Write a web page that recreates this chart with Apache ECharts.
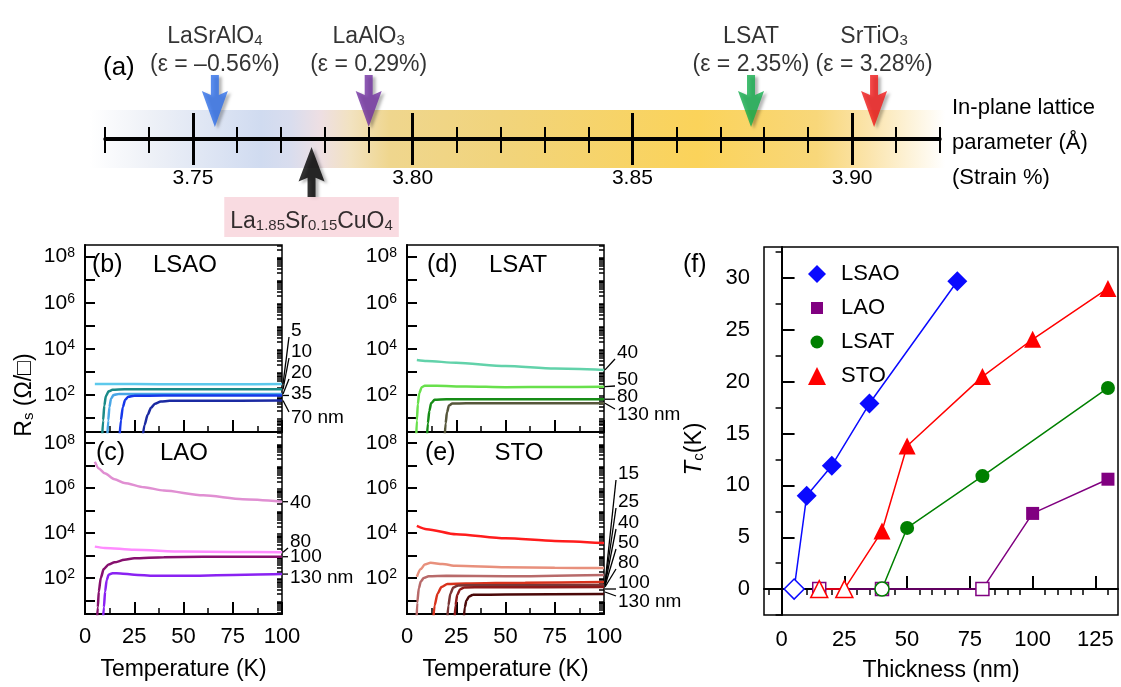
<!DOCTYPE html>
<html>
<head>
<meta charset="utf-8">
<script src="https://cdn.jsdelivr.net/npm/echarts@6/dist/echarts.min.js"></script>
<style>
  html, body { margin: 0; padding: 0; background: #fff; }
  #chart { width: 1121px; height: 687px; }
</style>
</head>
<body>
<div id="chart"></div>
<script>
// (a) substrates placed on the in-plane lattice parameter axis (angstrom)
const substrateNames = ['LaSrAlO4', 'LaAlO3', 'LSAT', 'SrTiO3']
const substrateLattice = [3.755, 3.790, 3.877, 3.905]
const substrateStrain = [-0.56, 0.29, 2.35, 3.28]
const filmName = 'La1.85Sr0.15CuO4'
const filmLattice = 3.777
const latticeMajorTicks = [3.75, 3.80, 3.85, 3.90]
const latticeMinorTicks = [3.73, 3.74, 3.76, 3.77, 3.78, 3.79, 3.81, 3.82, 3.83, 3.84, 3.86, 3.87, 3.88, 3.89, 3.91, 3.92]

// (b)-(e) sheet resistance vs temperature, [T (K), Rs (ohm/sq)]
const lsaoLabels = ['5', '10', '20', '35', '70 nm']
const lsao5 = [[5, 300], [25, 298], [50, 296], [75, 296], [100, 298]]
const lsao10 = [[8.6, 1], [9.2, 8], [9.8, 35], [10.6, 90], [12, 145], [14, 170], [20, 178], [50, 178], [100, 178]]
const lsao20 = [[11.2, 1], [11.8, 8], [12.4, 30], [13.2, 70], [14.5, 100], [17, 110], [30, 112], [100, 112]]
const lsao35 = [[17.4, 1], [18.2, 8], [19.2, 30], [20.4, 62], [22, 85], [25, 94], [40, 95], [100, 96]]
const lsao70 = [[29, 1], [30.2, 5], [31.8, 14], [33.5, 28], [35.5, 42], [38.5, 52], [43, 57], [60, 57], [100, 58]]

const laoLabels = ['40', '80', '100', '130 nm']
const lao40 = [[5, 1.5e7], [7, 7.6e6], [10, 4.6e6], [15, 2.5e6], [20, 1.7e6], [30, 1.1e6], [40, 7.9e5], [60, 4.8e5], [80, 3.2e5], [100, 2.5e5]]
const lao80 = [[5, 2.5e3], [10, 2.2e3], [25, 1.8e3], [50, 1.5e3], [75, 1.45e3], [100, 1.4e3]]
const lao100 = [[6, 1], [6.5, 5], [7, 25], [8, 100], [9.5, 250], [12, 400], [15, 500], [20, 650], [25, 760], [40, 850], [60, 880], [100, 890]]
const lao130 = [[9, 1], [9.6, 5], [10.2, 25], [11, 80], [12, 140], [14, 165], [18, 160], [25, 140], [35, 125], [50, 125], [75, 138], [100, 150]]

const lsatLabels = ['40', '50', '80', '130 nm']
const lsat40 = [[5, 3.3e3], [10, 3.0e3], [25, 2.5e3], [50, 1.8e3], [75, 1.4e3], [100, 1.23e3]]
const lsat50 = [[4.6, 1], [5, 8], [5.5, 40], [6.2, 120], [7.5, 220], [9, 250], [15, 250], [30, 235], [50, 220], [75, 222], [100, 230]]
const lsat80 = [[10, 1], [10.6, 6], [11.3, 20], [12.3, 45], [14, 62], [20, 66], [100, 66]]
const lsat130 = [[19, 1], [19.6, 6], [20.3, 18], [21.3, 35], [23, 43], [30, 44], [100, 44]]

const stoLabels = ['15', '25', '40', '50', '80', '100', '130 nm']
const sto15 = [[5, 2.1e4], [10, 1.5e4], [25, 8.9e3], [50, 5.9e3], [75, 4.5e3], [100, 3.6e3]]
const sto25 = [[5, 115], [7, 250], [9, 400], [12, 480], [18, 420], [25, 350], [50, 300], [75, 285], [100, 280]]
const sto40 = [[4.8, 1], [5.2, 8], [6, 35], [7, 70], [8.5, 100], [11, 120], [20, 125], [50, 120], [100, 138]]
const sto50 = [[13.2, 1], [14, 6], [15.5, 20], [17.5, 40], [20.5, 55], [30, 57], [60, 62], [100, 66]]
const sto80 = [[20.3, 1], [21, 6], [22, 20], [23.5, 38], [26, 47], [35, 48], [100, 49]]
const sto100 = [[24, 1], [24.6, 6], [25.5, 18], [27, 32], [29, 38], [40, 39], [100, 40]]
const sto130 = [[28.7, 1], [29.3, 5], [30.2, 10], [31.5, 15], [33.5, 18], [50, 18.5], [100, 19.5]]

const tempTicks = [0, 25, 50, 75, 100]
const rLabelValues = [1e2, 1e4, 1e6, 1e8]

// (f) Tc vs film thickness (Tc = 0 means no superconductivity, open marker)
const lsaoThick = [5, 10, 20, 35, 70]
const lsaoTc = [0, 9.0, 11.9, 17.9, 29.7]
const laoThick = [15, 40, 80, 100, 130]
const laoTc = [0, 0, 0, 7.3, 10.6]
const lsatThick = [40, 50, 80, 130]
const lsatTc = [0, 5.9, 10.9, 19.4]
const stoThick = [15, 25, 40, 50, 80, 100, 130]
const stoTc = [0, 0, 5.6, 13.8, 20.5, 24.1, 29.0]
const thickTicks = [0, 25, 50, 75, 100, 125]
const tcTicks = [0, 5, 10, 15, 20, 25, 30]

const FONT = "'Liberation Sans', Arial, sans-serif"
const chart = echarts.init(document.getElementById('chart'))

function chem(s, n, sub) {
  return s.replace(/([A-Za-z]+)|([\d.]+)/g, (m, a, d) => a ? '{' + n + '|' + a + '}' : '{' + sub + '|' + d + '}')
}
function strainText(v) {
  return (v < 0 ? '\u2013' + Math.abs(v).toFixed(2) : v.toFixed(2))
}

// lattice axis: four overlaid axes give ticks that cross the line
function latticeAxis(position, ticks, len, width, withLine, withLabel) {
  return {
    gridIndex: 0, type: 'value', position: position, min: 3.73, max: 3.92,
    axisLine: { show: withLine, lineStyle: { color: '#000', width: 3 } },
    axisTick: { inside: true, length: len, customValues: ticks, lineStyle: { color: '#000', width: width } },
    axisLabel: {
      show: withLabel, customValues: latticeMajorTicks, formatter: v => v.toFixed(2),
      margin: 29, fontSize: 21, color: '#000', fontFamily: FONT
    },
    splitLine: { show: false }
  }
}

const minorLog = []
for (let e = 0; e <= 8; e++) {
  for (let m = 2; m <= 9; m++) minorLog.push(m * Math.pow(10, e))
}
const majorLog = [1e1, 1e2, 1e3, 1e4, 1e5, 1e6, 1e7, 1e8]

function rAxes(gridIndex) {
  const base = {
    gridIndex: gridIndex, type: 'log', logBase: 10,
    min: Math.pow(10, 0.4), max: Math.pow(10, 8.5),
    splitLine: { show: false }
  }
  return [
    Object.assign({}, base, {
      axisLine: { lineStyle: { color: '#000', width: 2 } },
      axisTick: { inside: true, length: 10, customValues: majorLog, lineStyle: { color: '#000', width: 2 } },
      axisLabel: {
        customValues: rLabelValues, margin: 10,
        formatter: v => '{b|10}{p|' + Math.round(Math.log10(v)) + '}',
        rich: {
          b: { fontSize: 21, fontFamily: FONT, color: '#000' },
          p: { fontSize: 14, fontFamily: FONT, color: '#000', verticalAlign: 'top' }
        }
      }
    }),
    Object.assign({}, base, {
      axisLine: { show: false },
      axisTick: { inside: true, length: 5, customValues: minorLog, lineStyle: { color: '#000', width: 1.5 } },
      axisLabel: { show: false }
    })
  ]
}

function tAxis(gridIndex, withLabel) {
  return {
    gridIndex: gridIndex, type: 'value', min: 0, max: 100, interval: 25,
    axisLine: { lineStyle: { color: '#000', width: 2 } },
    axisTick: { inside: true, length: 12, lineStyle: { color: '#000', width: 2 } },
    minorTick: { show: true, splitNumber: 2, length: 6, lineStyle: { color: '#000', width: 1.5 } },
    axisLabel: { show: withLabel, customValues: tempTicks, margin: 12, fontSize: 22, color: '#000', fontFamily: FONT },
    splitLine: { show: false },
    name: withLabel ? 'Temperature (K)' : '', nameLocation: 'middle', nameGap: 44,
    nameTextStyle: { fontSize: 23, color: '#000', fontFamily: FONT }
  }
}

const panels = [
  { curves: [lsao5, lsao10, lsao20, lsao35, lsao70], labels: lsaoLabels,
    colors: ['#5dc9ec', '#1a8a88', '#48a6e6', '#1638ea', '#1b2aa2'], x: 4, y: 1 },
  { curves: [lao40, lao80, lao100, lao130], labels: laoLabels,
    colors: ['#e08fd2', '#ff8cff', '#86106e', '#8a22f2'], x: 5, y: 3 },
  { curves: [lsat40, lsat50, lsat80, lsat130], labels: lsatLabels,
    colors: ['#62d2aa', '#68e04c', '#168c16', '#56563a'], x: 6, y: 5 },
  { curves: [sto15, sto25, sto40, sto50, sto80, sto100, sto130], labels: stoLabels,
    colors: ['#ff1c1c', '#e8907c', '#b86a6a', '#d8321c', '#7a3535', '#8e1a1a', '#4a0808'], x: 7, y: 7 }
]

// where the thickness tags sit next to each panel (pixels)
const tagLayout = [
  { x: 291, y: [331, 352, 373, 394, 418] },
  { x: 290, y: [503, 542, 557, 578] },
  { x: 617, y: [353, 380, 397, 415] },
  { x: 618, y: [474, 502, 523, 543, 563, 583, 602], from: [583, 584, 585, 586, 587, 589, 592] }
]

const series = []
const curveIndex = []
panels.forEach((p, pi) => {
  curveIndex[pi] = []
  p.curves.forEach((d, ci) => {
    curveIndex[pi].push(series.length)
    series.push({
      type: 'line', xAxisIndex: p.x, yAxisIndex: p.y, data: d,
      showSymbol: false, smooth: 0.25, smoothMonotone: 'x', silent: true,
      lineStyle: { color: p.colors[ci], width: 2.5 }, itemStyle: { color: p.colors[ci] }
    })
  })
})

function tcSeries(name, thick, tc, symbol, size, color) {
  return {
    type: 'line', name: name, xAxisIndex: 8, yAxisIndex: 9, symbol: symbol, symbolSize: size,
    data: thick.map((t, i) => tc[i] === 0
      ? { value: [t, tc[i]], itemStyle: { color: '#fff', borderColor: color, borderWidth: 1.5 } }
      : [t, tc[i]]),
    lineStyle: { color: color, width: 1.5 }, itemStyle: { color: color }, z: 3
  }
}
series.push(tcSeries('LAO', laoThick, laoTc, 'rect', 13, '#800080'))
series.push(tcSeries('LSAT', lsatThick, lsatTc, 'circle', 14, '#008000'))
series.push(tcSeries('STO', stoThick, stoTc, 'triangle', 17, '#ff0000'))
series.push(tcSeries('LSAO', lsaoThick, lsaoTc, 'diamond', 20, '#0a0aff'))

// arrows in (a)
const downArrow = 'path://M9,0L17,0L17,20L26,16L13,52L0,16L9,20Z'
const upArrow = 'path://M13,0L26,36L17,32L17,52L9,52L9,32L0,36Z'
const arrowShadow = { shadowColor: 'rgba(0,0,0,0.35)', shadowBlur: 3, shadowOffsetX: 3, shadowOffsetY: 2 }
const substrateColors = ['#2f6fe8', '#7030a0', '#13ad4c', '#f01818']
const subStyle = { fontSize: 15, lineHeight: 14, fontFamily: FONT, color: '#000', verticalAlign: 'bottom' }
series.push({
  type: 'scatter', xAxisIndex: 0, yAxisIndex: 0, symbol: downArrow, symbolSize: [26, 52],
  symbolOffset: [0, -38], silent: true,
  data: substrateNames.map((n, i) => ({
    name: n, value: [substrateLattice[i], 0],
    itemStyle: Object.assign({ color: substrateColors[i] }, arrowShadow)
  })),
  label: {
    show: true, position: 'top', distance: -7, align: 'center',
    formatter: p => chem(p.name, 'n', 's') + '\n{e|(\u03b5 = ' + strainText(substrateStrain[p.dataIndex]) + '%)}',
    rich: {
      n: { fontSize: 23, lineHeight: 32, fontFamily: FONT, color: '#000', verticalAlign: 'bottom' },
      s: subStyle,
      e: { fontSize: 23, lineHeight: 34, fontFamily: FONT, color: '#000' }
    }
  }
})
series.push({
  type: 'scatter', xAxisIndex: 0, yAxisIndex: 0, symbol: upArrow, symbolSize: [26, 50],
  symbolOffset: [0, 33], silent: true,
  data: [{ name: filmName, value: [filmLattice, 0], itemStyle: Object.assign({ color: '#000' }, arrowShadow) }],
  label: {
    show: true, position: 'bottom', distance: 0,
    backgroundColor: '#f8d2da', padding: [2, 6, 4, 6],
    formatter: p => chem(p.name, 'n', 's'),
    rich: {
      n: { fontSize: 23, lineHeight: 34, fontFamily: FONT, color: '#000', verticalAlign: 'bottom' },
      s: Object.assign({}, subStyle, { fontSize: 15 })
    }
  }
})

const t = (text, x, y, size, extra) => ({
  type: 'text', x: x, y: y,
  style: Object.assign({ text: text, font: size + 'px ' + FONT, fill: '#000', textVerticalAlign: 'middle' }, extra || {})
})

const staticGraphics = [
  {
    type: 'rect', z: -10, shape: { x: 90, y: 110, width: 855, height: 58 },
    style: {
      fill: new echarts.graphic.LinearGradient(0, 0, 1, 0, [
        { offset: 0, color: 'rgba(255,255,255,1)' },
        { offset: 0.07, color: '#eef1f7' },
        { offset: 0.17, color: '#d7e0f2' },
        { offset: 0.2, color: '#d0dbf0' },
        { offset: 0.235, color: '#d9ddee' },
        { offset: 0.27, color: '#eedfe3' },
        { offset: 0.305, color: '#f2e2c0' },
        { offset: 0.35, color: '#efd68e' },
        { offset: 0.48, color: '#f1d47c' },
        { offset: 0.71, color: '#fbd35a' },
        { offset: 0.85, color: '#f8d77a' },
        { offset: 0.91, color: '#fbe4ab' },
        { offset: 1, color: 'rgba(255,255,255,1)' }
      ])
    }
  },
  t('(a)', 103, 68, 26),
  t('In-plane lattice\nparameter (\u00c5)\n(Strain %)', 952, 143, 22, { lineHeight: 35 }),
  t('(b)', 92, 265, 25), t('LSAO', 185, 265, 24, { textAlign: 'center' }),
  t('(c)', 96, 453, 25), t('LAO', 184, 453, 24, { textAlign: 'center' }),
  t('(d)', 427, 265, 25), t('LSAT', 518, 265, 24, { textAlign: 'center' }),
  t('(e)', 425, 453, 25), t('STO', 519, 453, 24, { textAlign: 'center' }),
  t('(f)', 683, 265, 25),
  {
    type: 'text', x: 22, y: 395, rotation: Math.PI / 2,
    style: {
      text: '{n|R}{s|s}{n| (\u03a9/\u25a1)}', textAlign: 'center', textVerticalAlign: 'middle',
      rich: {
        n: { fontSize: 23, fontFamily: FONT, fill: '#000', lineHeight: 28, verticalAlign: 'bottom' },
        s: { fontSize: 15, fontFamily: FONT, fill: '#000', lineHeight: 12, verticalAlign: 'bottom' }
      }
    }
  }
]

const option = {
  animation: false,
  backgroundColor: '#fff',
  grid: [
    { left: 105, width: 835, top: 138, height: 1 },
    { left: 85, top: 245, width: 197, height: 187, show: true, borderColor: '#000', borderWidth: 1.5 },
    { left: 85, top: 432, width: 197, height: 182, show: true, borderColor: '#000', borderWidth: 1.5 },
    { left: 407, top: 245, width: 197, height: 187, show: true, borderColor: '#000', borderWidth: 1.5 },
    { left: 407, top: 432, width: 197, height: 182, show: true, borderColor: '#000', borderWidth: 1.5 },
    { left: 764, top: 247, width: 354, height: 368, show: true, borderColor: '#000', borderWidth: 1.5 }
  ],
  xAxis: [
    latticeAxis('bottom', latticeMajorTicks, 26, 3, true, true),
    latticeAxis('bottom', latticeMinorTicks, 12, 2, false, false),
    latticeAxis('top', latticeMajorTicks, 27, 3, true, false),
    latticeAxis('top', latticeMinorTicks, 15, 2, false, false),
    tAxis(1, false), tAxis(2, true), tAxis(3, false), tAxis(4, true),
    {
      gridIndex: 5, type: 'value', min: -7, max: 134,
      axisLine: { lineStyle: { color: '#000', width: 2 } },
      axisTick: { inside: true, length: 13, customValues: thickTicks, lineStyle: { color: '#000', width: 2 } },
      axisLabel: { customValues: thickTicks, margin: 14, fontSize: 22, color: '#000', fontFamily: FONT },
      splitLine: { show: false },
      name: 'Thickness (nm)', nameLocation: 'middle', nameGap: 44,
      nameTextStyle: { fontSize: 23, color: '#000', fontFamily: FONT }
    },
    {
      gridIndex: 5, type: 'value', min: -7, max: 134,
      axisLine: { show: false },
      axisTick: { inside: true, length: 6, customValues: [-5, 5, 10, 15, 20, 30, 35, 40, 45, 55, 60, 65, 70, 80, 85, 90, 95, 105, 110, 115, 120, 130],
        lineStyle: { color: '#000', width: 1.5 } },
      axisLabel: { show: false }, splitLine: { show: false }
    }
  ],
  yAxis: [
    { gridIndex: 0, type: 'value', min: 0, max: 1, show: false },
    ...rAxes(1), ...rAxes(2), ...rAxes(3), ...rAxes(4),
    {
      gridIndex: 5, type: 'value', min: -2.5, max: 33,
      axisLine: { lineStyle: { color: '#000', width: 2 } },
      axisTick: { inside: true, length: 13, customValues: tcTicks, lineStyle: { color: '#000', width: 2 } },
      axisLabel: { customValues: tcTicks, margin: 14, fontSize: 22, color: '#000', fontFamily: FONT },
      splitLine: { show: false },
      name: '{i|T}{s|c}{n|(K)}', nameLocation: 'middle', nameGap: 58,
      nameTextStyle: {
        padding: [0, 36, 0, 0],
        rich: {
          i: { fontSize: 24, fontStyle: 'italic', fontFamily: FONT, color: '#000', lineHeight: 28, verticalAlign: 'bottom' },
          s: { fontSize: 15, fontFamily: FONT, color: '#000', lineHeight: 12, verticalAlign: 'bottom' },
          n: { fontSize: 23, fontFamily: FONT, color: '#000', lineHeight: 28, verticalAlign: 'bottom' }
        }
      }
    },
    {
      gridIndex: 5, type: 'value', min: -2.5, max: 33,
      axisLine: { show: false },
      axisTick: { inside: true, length: 6, customValues: [-2.5, 2.5, 7.5, 12.5, 17.5, 22.5, 27.5, 32.5],
        lineStyle: { color: '#000', width: 1.5 } },
      axisLabel: { show: false }, splitLine: { show: false }
    }
  ],
  legend: {
    orient: 'vertical', left: 803, top: 258, itemWidth: 18, itemHeight: 18, itemGap: 12,
    data: [
      { name: 'LSAO', icon: 'diamond' },
      { name: 'LAO', icon: 'path://M0,0L0,0M18,18L18,18M3,3L15,3L15,15L3,15Z' },
      { name: 'LSAT', icon: 'path://M0,0L0,0M18,18L18,18M2.5,9A6.5,6.5 0 1 0 15.5,9A6.5,6.5 0 1 0 2.5,9Z' },
      { name: 'STO', icon: 'triangle' }
    ],
    textStyle: { fontSize: 22, fontFamily: FONT, color: '#000', lineHeight: 18, padding: [0, 0, 0, 10] }
  },
  graphic: staticGraphics,
  series: series
}
chart.setOption(option)

// thickness tags with short leader lines, anchored on the curve ends
const tags = []
panels.forEach((p, pi) => {
  const lay = tagLayout[pi]
  p.curves.forEach((d, ci) => {
    const end = chart.convertToPixel({ seriesIndex: curveIndex[pi][ci] }, d[d.length - 1])
    const sy = lay.from ? lay.from[ci] : end[1]
    const ly = lay.y[ci]
    const ey = ly + Math.max(-6, Math.min(6, sy - ly))
    tags.push({ type: 'line', shape: { x1: end[0] + 1, y1: sy, x2: lay.x - 2, y2: ey }, style: { stroke: '#000', lineWidth: 1.3 } })
    tags.push(t(p.labels[ci], lay.x, ly, 19))
  })
})
chart.setOption({ graphic: staticGraphics.concat(tags) })
</script>
</body>
</html>
